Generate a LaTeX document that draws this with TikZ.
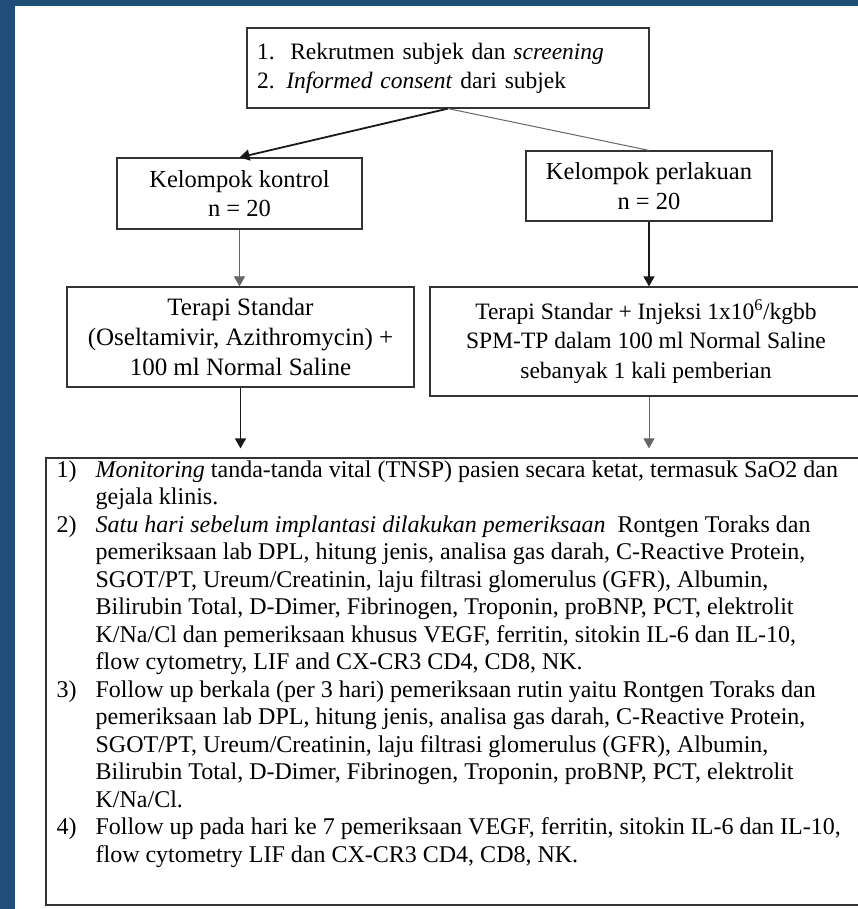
\documentclass[tikz,border=0pt]{standalone}
\usepackage{fontspec}
\setmainfont{Liberation Serif}
\usetikzlibrary{arrows.meta,positioning}
\definecolor{frameblue}{RGB}{31,78,121}
\newcommand\plabel[1]{\makebox[39pt][l]{#1}}
\newcommand\pcont{\hspace*{39pt}}
\tikzset{
  box/.style={draw=black!80, line width=1.2pt, align=center, inner sep=0pt,
    font=\fontsize{24.5}{29.5}\selectfont},
  arr/.style={draw=black!90, line width=1.3pt, -{Triangle[width=11pt,length=10pt]}},
  thinarr/.style={arr, draw=black!60, line width=1pt},
}
\begin{document}
\begin{tikzpicture}[x=1pt,y=-1pt]
    \useasboundingbox (0,0) rectangle (858,909);
    \clip (0,0) rectangle (858,909);
    \fill[frameblue] (0,0) rectangle (858,909);
    \fill[white] (15,6) rectangle (858,909);
    % boxes
    \node[box, minimum width=402pt, minimum height=80pt, text width=382pt, align=left,
      font=\fontsize{23.5}{29}\selectfont] (recruit) at (448,68)
      {1.\ \ Rekrutmen subjek dan \textit{screening}\\2. \textit{Informed consent} dari subjek};
    \node[box, minimum width=245pt, minimum height=71pt] (kontrol) at (239.5,193.5) {Kelompok kontrol\\n = 20};
    \node[box, minimum width=246pt, minimum height=70pt] (perlakuan) at (649,186) {Kelompok perlakuan\\n = 20};
    \node[box, minimum width=347pt, minimum height=100pt, font=\fontsize{25}{30}\selectfont] (terapiK) at (240.5,337)
      {Terapi Standar\\(Oseltamivir, Azithromycin) +\\100 ml Normal Saline};
    \node[box, minimum width=432pt, minimum height=109pt, font=\fontsize{23.5}{29.5}\selectfont] (terapiP) at (646,341.5)
      {Terapi Standar + Injeksi 1x10\textsuperscript{6}/kgbb\\SPM-TP dalam 100 ml Normal Saline\\sebanyak 1 kali pemberian};
    \node[box, minimum width=834pt, minimum height=447pt] (plan) at (463,681.5) {};
    \node[anchor=north west, align=left, inner sep=0pt, font=\fontsize{24}{27.5}\selectfont] (plantext)
      at ([xshift=11pt,yshift=-3pt]plan.north west)
      {\plabel{1)}\textit{Monitoring} tanda-tanda vital (TNSP) pasien secara ketat, termasuk SaO2 dan\\
       \pcont gejala klinis.\\
       \plabel{2)}\textit{Satu hari sebelum implantasi dilakukan pemeriksaan}\ \ Rontgen Toraks dan\\
       \pcont pemeriksaan lab DPL, hitung jenis, analisa gas darah, C-Reactive Protein,\\
       \pcont SGOT/PT, Ureum/Creatinin, laju filtrasi glomerulus (GFR), Albumin,\\
       \pcont Bilirubin Total, D-Dimer, Fibrinogen, Troponin, proBNP, PCT, elektrolit\\
       \pcont K/Na/Cl dan pemeriksaan khusus VEGF, ferritin, sitokin IL-6 dan IL-10,\\
       \pcont flow cytometry, LIF and CX-CR3 CD4, CD8, NK.\\
       \plabel{3)}Follow up berkala (per 3 hari) pemeriksaan rutin yaitu Rontgen Toraks dan\\
       \pcont pemeriksaan lab DPL, hitung jenis, analisa gas darah, C-Reactive Protein,\\
       \pcont SGOT/PT, Ureum/Creatinin, laju filtrasi glomerulus (GFR), Albumin,\\
       \pcont Bilirubin Total, D-Dimer, Fibrinogen, Troponin, proBNP, PCT, elektrolit\\
       \pcont K/Na/Cl.\\
       \plabel{4)}Follow up pada hari ke 7 pemeriksaan VEGF, ferritin, sitokin IL-6 dan IL-10,\\
       \pcont flow cytometry LIF dan CX-CR3 CD4, CD8, NK.};
    % arrows
    \draw[arr, line width=1.8pt] (recruit.south) -- (kontrol.north);
    \draw[draw=black!60, line width=1pt] (recruit.south) -- (perlakuan.north);
    \draw[thinarr] (kontrol.south) -- (kontrol.south |- terapiK.north);
    \draw[arr] (perlakuan.south) -- (perlakuan.south |- terapiP.north);
    \draw[arr, shorten >=9pt] (terapiK.south) -- (terapiK.south |- plan.north);
    \draw[thinarr, shorten >=9pt] (perlakuan.south |- terapiP.south) -- (perlakuan.south |- plan.north);
\end{tikzpicture}
\end{document}
